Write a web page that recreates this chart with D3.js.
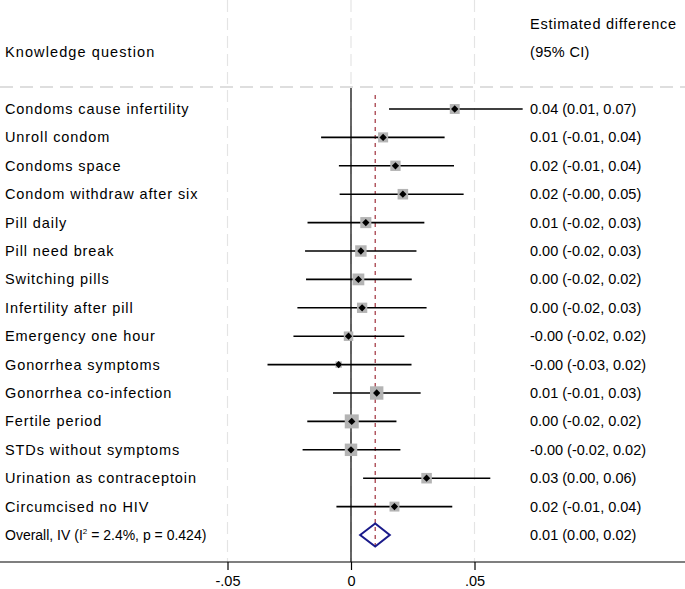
<!DOCTYPE html>
<html>
<head>
<meta charset="utf-8">
<script src="https://cdn.jsdelivr.net/npm/d3@7"></script>
<style>
  body { margin: 0; background: #fff; }
  text { font-family: "Liberation Sans", Arial, sans-serif; }
</style>
</head>
<body>
<div id="container"></div>
<script>
/* DATA */
const questions = [
  "Condoms cause infertility", "Unroll condom", "Condoms space", "Condom withdraw after six",
  "Pill daily", "Pill need break", "Switching pills", "Infertility after pill",
  "Emergency one hour", "Gonorrhea symptoms", "Gonorrhea co-infection", "Fertile period",
  "STDs without symptoms", "Urination as contraceptoin", "Circumcised no HIV"
];
const estimates = [0.042, 0.013, 0.018, 0.021, 0.006, 0.004, 0.003, 0.0045, -0.001, -0.005, 0.0104, 0.0003, 0.0, 0.0306, 0.0176];
const lower = [0.0154, -0.0121, -0.0049, -0.0046, -0.0176, -0.0186, -0.0182, -0.0217, -0.0233, -0.0338, -0.0073, -0.0177, -0.0196, 0.0049, -0.0059];
const upper = [0.0695, 0.0379, 0.0417, 0.0456, 0.0297, 0.0265, 0.0246, 0.0306, 0.0216, 0.0245, 0.0282, 0.0184, 0.020, 0.0564, 0.041];
const weights = [6.0, 6.2, 6.5, 6.8, 7.5, 8.0, 8.5, 6.5, 5.5, 2.5, 11.0, 12.0, 9.5, 6.8, 6.0];
const ciLabels = [
  "0.04 (0.01, 0.07)", "0.01 (-0.01, 0.04)", "0.02 (-0.01, 0.04)", "0.02 (-0.00, 0.05)",
  "0.01 (-0.02, 0.03)", "0.00 (-0.02, 0.03)", "0.00 (-0.02, 0.02)", "0.00 (-0.02, 0.03)",
  "-0.00 (-0.02, 0.02)", "-0.00 (-0.03, 0.02)", "0.01 (-0.01, 0.03)", "0.00 (-0.02, 0.02)",
  "-0.00 (-0.02, 0.02)", "0.03 (0.00, 0.06)", "0.02 (-0.01, 0.04)"
];
const overall = { est: 0.0098, lo: 0.0037, hi: 0.0157, label: "0.01 (0.00, 0.02)" };
const xTicks = [-0.05, 0, 0.05];
const xTickLabels = ["-.05", "0", ".05"];

/* CONSTANTS */
const width = 685, height = 589;
const axisY = 562;
const fs = 14.5;

const svg = d3.select("#container")
  .append("svg")
  .attr("width", width)
  .attr("height", height);

const x = d3.scaleLinear().domain([-0.05, 0.05]).range([227.5, 474.5]);
const rowKeys = questions.concat(["__overall"]);
const y = d3.scalePoint().domain(rowKeys).range([109, 535]);
const size = d3.scaleSqrt().domain([0, d3.max(weights)]).range([0, 14]);

// vertical grid lines
svg.selectAll("line.grid")
  .data(xTicks)
  .join("line")
  .attr("class", "grid")
  .attr("x1", d => x(d)).attr("x2", d => x(d))
  .attr("y1", 0).attr("y2", axisY)
  .attr("stroke", "#e4e4e4")
  .attr("stroke-width", 1.2)
  .attr("stroke-dasharray", "12,6");

// header separator
svg.append("line")
  .attr("x1", 0).attr("x2", width)
  .attr("y1", 87).attr("y2", 87)
  .attr("stroke", "#bdbdbd")
  .attr("stroke-width", 1.2)
  .attr("stroke-dasharray", "13,7");

// zero line
svg.append("line")
  .attr("x1", x(0)).attr("x2", x(0))
  .attr("y1", 88).attr("y2", axisY)
  .attr("stroke", "#000")
  .attr("stroke-width", 1.2);

// overall effect line
svg.append("line")
  .attr("x1", x(overall.est)).attr("x2", x(overall.est))
  .attr("y1", 95).attr("y2", 547)
  .attr("stroke", "#a0303c")
  .attr("stroke-width", 1.2)
  .attr("stroke-dasharray", "4,4");

// header text
svg.append("text").attr("x", 5).attr("y", 57).attr("font-size", fs).attr("letter-spacing", 1.1).text("Knowledge question");
svg.append("text").attr("x", 530).attr("y", 29).attr("font-size", fs).attr("letter-spacing", 0.75).text("Estimated difference");
svg.append("text").attr("x", 530).attr("y", 57).attr("font-size", fs).attr("letter-spacing", 0.3).text("(95% CI)");

const rows = questions.map((q, i) => ({
  q, est: estimates[i], lo: lower[i], hi: upper[i], w: weights[i], label: ciLabels[i]
}));

// CI lines
svg.selectAll("line.ci")
  .data(rows)
  .join("line")
  .attr("class", "ci")
  .attr("x1", d => x(d.lo)).attr("x2", d => x(d.hi))
  .attr("y1", d => y(d.q)).attr("y2", d => y(d.q))
  .attr("stroke", "#000")
  .attr("stroke-width", 1.6);

// weight squares
svg.selectAll("rect.wt")
  .data(rows)
  .join("rect")
  .attr("class", "wt")
  .attr("x", d => x(d.est) - size(d.w) / 2)
  .attr("y", d => y(d.q) - size(d.w) / 2)
  .attr("width", d => size(d.w))
  .attr("height", d => size(d.w))
  .attr("fill", "#b4b4b4");

// point markers
svg.selectAll("path.pt")
  .data(rows)
  .join("path")
  .attr("class", "pt")
  .attr("d", d3.symbol(d3.symbolDiamond2, 34))
  .attr("transform", d => `translate(${x(d.est)},${y(d.q)})`)
  .attr("fill", "#000");

// row labels
svg.selectAll("text.q")
  .data(rows)
  .join("text")
  .attr("class", "q")
  .attr("x", 5)
  .attr("y", d => y(d.q) + 5)
  .attr("font-size", fs)
  .attr("letter-spacing", 0.9)
  .text(d => d.q);

svg.selectAll("text.ci")
  .data(rows)
  .join("text")
  .attr("class", "ci")
  .attr("x", 530)
  .attr("y", d => y(d.q) + 5)
  .attr("font-size", fs)
  .text(d => d.label);

// overall row
const oy = y("__overall");
const ot = svg.append("text").attr("x", 5).attr("y", oy + 5).attr("font-size", 14);
ot.append("tspan").text("Overall, IV (I");
ot.append("tspan").attr("font-size", 8).attr("dy", -6).text("2");
ot.append("tspan").attr("dy", 6).text(" = 2.4%, p = 0.424)");
svg.append("text").attr("x", 530).attr("y", oy + 5).attr("font-size", fs).text(overall.label);

svg.append("path")
  .attr("d", `M${x(overall.lo)},${oy} L${x(overall.est)},${oy - 11.5} L${x(overall.hi)},${oy} L${x(overall.est)},${oy + 11.5} Z`)
  .attr("fill", "none")
  .attr("stroke", "#1a1a8a")
  .attr("stroke-width", 2);

// x axis
svg.append("line")
  .attr("x1", 0).attr("x2", width)
  .attr("y1", axisY).attr("y2", axisY)
  .attr("stroke", "#000")
  .attr("stroke-width", 1.2);

const axis = d3.axisBottom(x)
  .tickValues(xTicks)
  .tickFormat((d, i) => xTickLabels[i])
  .tickSize(8)
  .tickPadding(6);

const gx = svg.append("g")
  .attr("transform", `translate(0,${axisY})`)
  .call(axis);
gx.select(".domain").remove();
gx.selectAll("line").attr("stroke-width", 1.2);
gx.selectAll("text").attr("font-size", fs).attr("font-family", "Liberation Sans, Arial, sans-serif");
</script>
</body>
</html>
